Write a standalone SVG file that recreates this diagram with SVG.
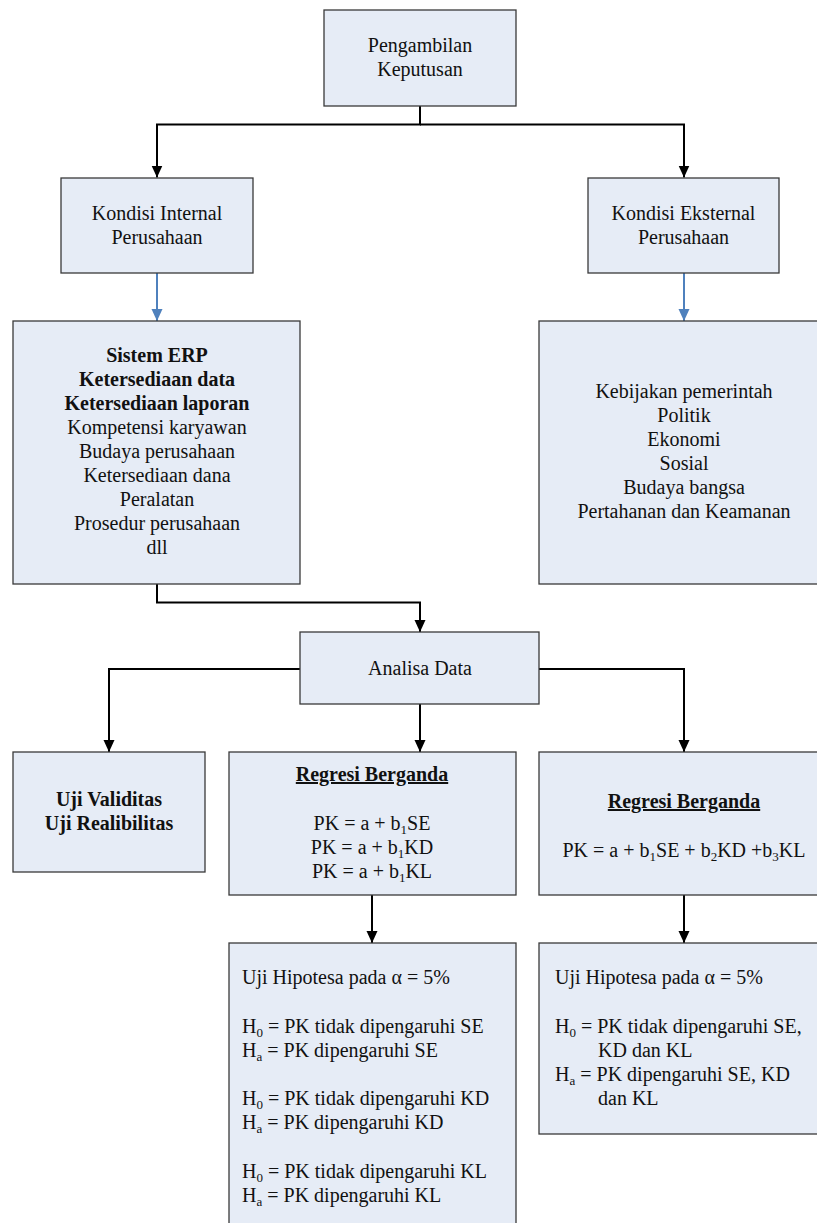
<svg xmlns="http://www.w3.org/2000/svg" width="817" height="1223" viewBox="0 0 817 1223">
<style>
.box{fill:#E6ECF6;stroke:#3a3a3a;stroke-width:1.3}
.t{font-family:"Liberation Serif","Times New Roman",serif;font-size:20px;fill:#111}
.c{text-anchor:middle}
.b{font-weight:bold}
.u{text-decoration:underline}
.s{font-size:13px}
.k{fill:none;stroke:#000;stroke-width:2}
.bl{fill:none;stroke:#4F81BD;stroke-width:2}
</style>
<defs>
<marker id="ah" markerUnits="userSpaceOnUse" markerWidth="12" markerHeight="12" refX="12" refY="5.5" orient="auto"><path d="M0,0 L12,5.5 L0,11 z" fill="#000"/></marker>
<marker id="ahb" markerUnits="userSpaceOnUse" markerWidth="12" markerHeight="12" refX="12" refY="5.5" orient="auto"><path d="M0,0 L12,5.5 L0,11 z" fill="#4F81BD"/></marker>
</defs>
<rect width="817" height="1223" fill="#fff"/>
<g id="connectors">
<path class="k" d="M420,106 V124.5 H157 V177.5" marker-end="url(#ah)"/>
<path class="k" d="M420,124.5 H684 V177.5" marker-end="url(#ah)"/>
<path class="bl" d="M157,273 V321" marker-end="url(#ahb)"/>
<path class="bl" d="M684,273 V321" marker-end="url(#ahb)"/>
<path class="k" d="M157,584 V602.5 H420 V632" marker-end="url(#ah)"/>
<path class="k" d="M300,669 H109 V752" marker-end="url(#ah)"/>
<path class="k" d="M420,704 V752" marker-end="url(#ah)"/>
<path class="k" d="M539,669 H684 V752" marker-end="url(#ah)"/>
<path class="k" d="M372,895 V943" marker-end="url(#ah)"/>
<path class="k" d="M684,895 V943" marker-end="url(#ah)"/>
</g>
<g id="pengambilan">
<rect class="box" x="324" y="10" width="192" height="96"/>
<text class="t c" x="420" y="52">Pengambilan</text>
<text class="t c" x="420" y="76">Keputusan</text>
</g>
<g id="internal">
<rect class="box" x="61" y="178" width="192" height="95"/>
<text class="t c" x="157" y="220">Kondisi Internal</text>
<text class="t c" x="157" y="244">Perusahaan</text>
</g>
<g id="eksternal">
<rect class="box" x="588" y="178" width="191" height="95"/>
<text class="t c" x="683.5" y="220">Kondisi Eksternal</text>
<text class="t c" x="683.5" y="244">Perusahaan</text>
</g>
<g id="faktor-internal">
<rect class="box" x="13" y="321" width="287" height="263"/>
<text class="t c b" x="157" y="362">Sistem ERP</text>
<text class="t c b" x="157" y="386">Ketersediaan data</text>
<text class="t c b" x="157" y="410">Ketersediaan laporan</text>
<text class="t c" x="157" y="434">Kompetensi karyawan</text>
<text class="t c" x="157" y="458">Budaya perusahaan</text>
<text class="t c" x="157" y="482">Ketersediaan dana</text>
<text class="t c" x="157" y="506">Peralatan</text>
<text class="t c" x="157" y="530">Prosedur perusahaan</text>
<text class="t c" x="157" y="554">dll</text>
</g>
<g id="faktor-eksternal">
<rect class="box" x="539" y="321" width="290" height="263"/>
<text class="t c" x="684" y="398">Kebijakan pemerintah</text>
<text class="t c" x="684" y="422">Politik</text>
<text class="t c" x="684" y="446">Ekonomi</text>
<text class="t c" x="684" y="470">Sosial</text>
<text class="t c" x="684" y="494">Budaya bangsa</text>
<text class="t c" x="684" y="518">Pertahanan dan Keamanan</text>
</g>
<g id="analisa">
<rect class="box" x="300" y="632" width="239" height="72"/>
<text class="t c" x="420" y="675">Analisa Data</text>
</g>
<g id="uji">
<rect class="box" x="13" y="752" width="192" height="120"/>
<text class="t c b" x="109" y="806">Uji Validitas</text>
<text class="t c b" x="109" y="830">Uji Realibilitas</text>
</g>
<g id="regresi1">
<rect class="box" x="229" y="752" width="287" height="143"/>
<text class="t c b u" x="372" y="781">Regresi Berganda</text>
<text class="t c" x="372" y="830">PK = a + b<tspan class="s" dy="4">1</tspan><tspan dy="-4">SE</tspan></text>
<text class="t c" x="372" y="854">PK = a + b<tspan class="s" dy="4">1</tspan><tspan dy="-4">KD</tspan></text>
<text class="t c" x="372" y="878">PK = a + b<tspan class="s" dy="4">1</tspan><tspan dy="-4">KL</tspan></text>
</g>
<g id="regresi2">
<rect class="box" x="539" y="752" width="290" height="143"/>
<text class="t c b u" x="684" y="808">Regresi Berganda</text>
<text class="t c" x="684" y="857">PK = a + b<tspan class="s" dy="4">1</tspan><tspan dy="-4">SE + b</tspan><tspan class="s" dy="4">2</tspan><tspan dy="-4">KD +b</tspan><tspan class="s" dy="4">3</tspan><tspan dy="-4">KL</tspan></text>
</g>
<g id="hipotesa1">
<rect class="box" x="229" y="943" width="287" height="300"/>
<text class="t" x="242" y="984">Uji Hipotesa pada α = 5%</text>
<text class="t" x="242" y="1033">H<tspan class="s" dy="4">0</tspan><tspan dy="-4"> = PK tidak dipengaruhi SE</tspan></text>
<text class="t" x="242" y="1057">H<tspan class="s" dy="4">a</tspan><tspan dy="-4"> = PK dipengaruhi SE</tspan></text>
<text class="t" x="242" y="1105">H<tspan class="s" dy="4">0</tspan><tspan dy="-4"> = PK tidak dipengaruhi KD</tspan></text>
<text class="t" x="242" y="1129">H<tspan class="s" dy="4">a</tspan><tspan dy="-4"> = PK dipengaruhi KD</tspan></text>
<text class="t" x="242" y="1178">H<tspan class="s" dy="4">0</tspan><tspan dy="-4"> = PK tidak dipengaruhi KL</tspan></text>
<text class="t" x="242" y="1202">H<tspan class="s" dy="4">a</tspan><tspan dy="-4"> = PK dipengaruhi KL</tspan></text>
</g>
<g id="hipotesa2">
<rect class="box" x="539" y="943" width="290" height="191"/>
<text class="t" x="555" y="984">Uji Hipotesa pada α = 5%</text>
<text class="t" x="555" y="1033">H<tspan class="s" dy="4">0</tspan><tspan dy="-4"> = PK tidak dipengaruhi SE,</tspan></text>
<text class="t" x="598" y="1057">KD dan KL</text>
<text class="t" x="555" y="1081">H<tspan class="s" dy="4">a</tspan><tspan dy="-4"> = PK dipengaruhi SE, KD</tspan></text>
<text class="t" x="598" y="1105">dan KL</text>
</g>
</svg>
